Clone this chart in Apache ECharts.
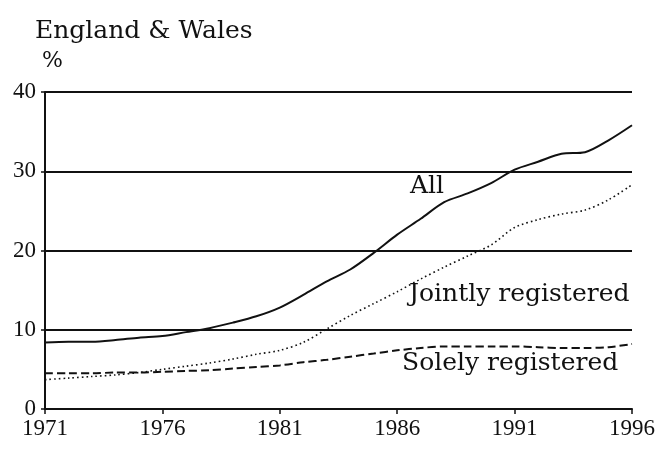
<!DOCTYPE html>
<html>
<head>
    <meta charset="utf-8">
    <title>ECharts</title>
    <script src="https://cdn.jsdelivr.net/npm/echarts@6/dist/echarts.min.js"></script>
    <style>
        html, body { margin: 0; padding: 0; background: #fff; }
    </style>
</head>
<body>
    <div id="main" style="width: 660px;height:452px;"></div>
    <script type="text/javascript">
        // data (percent of live births)
        var years = [1971, 1972, 1973, 1974, 1975, 1976, 1977, 1978, 1979, 1980,
                     1981, 1982, 1983, 1984, 1985, 1986, 1987, 1988, 1989, 1990,
                     1991, 1992, 1993, 1994, 1995, 1996];
        var allBirths = [8.4, 8.5, 8.5, 8.7, 9.0, 9.2, 9.7, 10.2, 10.9, 11.7,
                         12.8, 14.4, 16.1, 17.6, 19.7, 22.0, 24.0, 26.1, 27.2, 28.5,
                         30.2, 31.2, 32.2, 32.4, 33.9, 35.8];
        var jointly = [3.7, 3.9, 4.1, 4.3, 4.6, 5.0, 5.4, 5.8, 6.3, 6.9,
                       7.4, 8.4, 10.1, 11.8, 13.3, 14.8, 16.4, 17.9, 19.3, 20.7,
                       22.9, 23.9, 24.6, 25.1, 26.4, 28.3];
        var solely = [4.5, 4.5, 4.5, 4.6, 4.6, 4.7, 4.8, 4.9, 5.1, 5.3,
                      5.5, 5.9, 6.2, 6.6, 7.0, 7.4, 7.7, 7.9, 7.9, 7.9,
                      7.9, 7.8, 7.7, 7.7, 7.8, 8.2];
        var xTicks = [1971, 1976, 1981, 1986, 1991, 1996];
        var yTicks = [0, 10, 20, 30, 40];

        function pairs(vals) {
            return years.map(function (y, i) { return [y, vals[i]]; });
        }

        var ink = '#111';
        var serif = '"DejaVu Serif", serif';
        var digits = '"Liberation Serif", serif';

        var myChart = echarts.init(document.getElementById('main'));
        var option = {
            backgroundColor: '#fff',
            animation: false,
            title: {
                text: 'England & Wales',
                left: 30,
                top: 14,
                textStyle: { fontFamily: serif, fontSize: 25, fontWeight: 'normal', color: ink }
            },
            grid: { left: 45, right: 28, top: 92, bottom: 43 },
            xAxis: {
                type: 'value',
                min: xTicks[0],
                max: xTicks[xTicks.length - 1],
                interval: 5,
                axisLine: { show: true, lineStyle: { color: ink, width: 2 } },
                axisTick: { show: true, length: 5, lineStyle: { color: ink, width: 1.5 } },
                axisLabel: {
                    margin: 8,
                    fontFamily: digits, fontSize: 23, color: ink,
                    formatter: function (v) { return String(v); }
                },
                splitLine: { show: false }
            },
            yAxis: {
                type: 'value',
                min: yTicks[0],
                max: yTicks[yTicks.length - 1],
                interval: 10,
                axisLine: { show: true, lineStyle: { color: ink, width: 2 } },
                axisTick: { show: true, length: 4, lineStyle: { color: ink, width: 1.5 } },
                axisLabel: { margin: 9, fontFamily: digits, fontSize: 23, color: ink },
                splitLine: { show: true, lineStyle: { color: ink, width: 2 } }
            },
            graphic: [
                { type: 'text', left: 42, top: 50,
                  style: { text: '%', fontFamily: serif, fontSize: 22, fill: ink } },
                { type: 'text', left: 410, top: 174,
                  style: { text: 'All', fontFamily: serif, fontSize: 25, fill: ink } },
                { type: 'text', left: 409, top: 282,
                  style: { text: 'Jointly registered', fontFamily: serif, fontSize: 25, fill: ink } },
                { type: 'text', left: 402, top: 351,
                  style: { text: 'Solely registered', fontFamily: serif, fontSize: 25, fill: ink } }
            ],
            series: [
                {
                    name: 'All', type: 'line', data: pairs(allBirths),
                    showSymbol: false, smooth: 0.3,
                    lineStyle: { color: ink, width: 2 }
                },
                {
                    name: 'Jointly registered', type: 'line', data: pairs(jointly),
                    showSymbol: false, smooth: 0.3,
                    lineStyle: { color: ink, width: 1.6, type: [1.6, 3] }
                },
                {
                    name: 'Solely registered', type: 'line', data: pairs(solely),
                    showSymbol: false, smooth: 0.3,
                    lineStyle: { color: ink, width: 2, type: [8, 4] }
                }
            ]
        };
        myChart.setOption(option);
    </script>
</body>
</html>
